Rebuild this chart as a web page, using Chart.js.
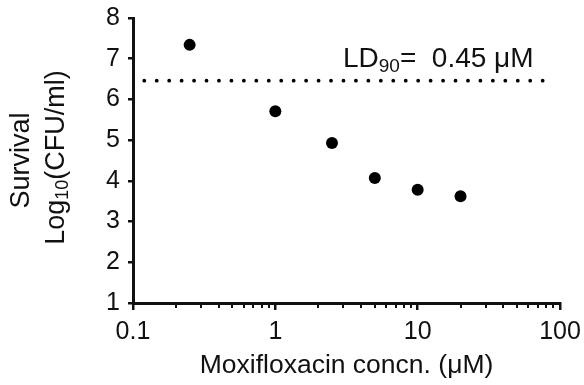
<!DOCTYPE html>
<html><head><meta charset="utf-8">
<script src="https://cdn.jsdelivr.net/npm/chart.js@4.4.0/dist/chart.umd.min.js"></script>
<style>html,body{margin:0;padding:0;background:#fff}#wrap{width:584px;height:385px}</style>
</head><body><div id="wrap"><canvas id="c" width="584" height="385"></canvas></div>
<script>
// ---- data ----
const concentrations = [0.25, 1, 2.5, 5, 10, 20];          // µM
const survivalLog10 = [7.34, 5.71, 4.93, 4.07, 3.78, 3.62]; // Log10(CFU/ml)
const ld90LineX = [0.12, 78];
const ld90LineY = [6.46, 6.46];
const xTickValues = [0.1, 1, 10, 100];
const xTickLabels = ['0.1', '1', '10', '100'];
const xMinorTickValues = [0.2, 0.3, 0.4, 0.5, 0.6, 0.7, 0.8, 0.9, 2, 3, 4, 5, 6, 7, 8, 9, 20, 30, 40, 50, 60, 70, 80, 90];
const yTickValues = [1, 2, 3, 4, 5, 6, 7, 8];
const xTitle = 'Moxifloxacin concn. (\u03BCM)';
const yTitleLine1 = 'Survival';
const yTitleLine2 = ['Log', '10', '(CFU/ml)'];
const ld90Text = ['LD', '90', '=  0.45 \u03BCM'];

const FONT = '"Liberation Sans", Arial, Helvetica, sans-serif';
const INK = '#111';

const extras = {
  id: 'extras',
  afterDraw(chart) {
    const ctx = chart.ctx;
    const xs = chart.scales.x, ys = chart.scales.y;
    const base = ys.getPixelForValue(1);
    ctx.save();
    // minor log ticks
    ctx.strokeStyle = INK; ctx.lineWidth = 2;
    xMinorTickValues.forEach(v => {
      const px = Math.round(xs.getPixelForValue(v));
      ctx.beginPath(); ctx.moveTo(px, base); ctx.lineTo(px, base + 5); ctx.stroke();
    });
    // y-axis title (two lines, rotated)
    const midY = (chart.chartArea.top + chart.chartArea.bottom) / 2;
    ctx.fillStyle = INK;
    ctx.textBaseline = 'middle';
    ctx.save();
    ctx.translate(22, midY);
    ctx.rotate(-Math.PI / 2);
    ctx.font = '27px ' + FONT;
    ctx.textAlign = 'center';
    ctx.fillText(yTitleLine1, 0, 0);
    ctx.restore();
    ctx.save();
    ctx.translate(57, midY - 3);
    ctx.rotate(-Math.PI / 2);
    ctx.textAlign = 'left';
    const big = '27px ' + FONT, small = '18px ' + FONT;
    ctx.font = big; const w1 = ctx.measureText(yTitleLine2[0]).width;
    ctx.font = small; const w2 = ctx.measureText(yTitleLine2[1]).width;
    ctx.font = big; const w3 = ctx.measureText(yTitleLine2[2]).width;
    let x0 = -(w1 + w2 + w3) / 2;
    ctx.font = big; ctx.fillText(yTitleLine2[0], x0, 0);
    ctx.font = small; ctx.fillText(yTitleLine2[1], x0 + w1, 6);
    ctx.font = big; ctx.fillText(yTitleLine2[2], x0 + w1 + w2, 0);
    ctx.restore();
    // LD90 annotation
    ctx.textBaseline = 'alphabetic';
    ctx.textAlign = 'left';
    const lbig = '28px ' + FONT, lsmall = '19px ' + FONT;
    let lx = 343; const ly = 67;
    ctx.font = lbig; ctx.fillText(ld90Text[0], lx, ly); lx += ctx.measureText(ld90Text[0]).width;
    ctx.font = lsmall; ctx.fillText(ld90Text[1], lx, ly + 5); lx += ctx.measureText(ld90Text[1]).width;
    ctx.font = lbig; ctx.fillText(ld90Text[2], lx, ly);
    ctx.restore();
  }
};

new Chart(document.getElementById('c'), {
  type: 'scatter',
  data: {
    datasets: [
      {
        data: concentrations.map((c, i) => ({x: c, y: survivalLog10[i]})),
        pointRadius: 6, pointHoverRadius: 6,
        backgroundColor: '#000', borderWidth: 0
      },
      {
        type: 'line',
        data: ld90LineX.map((x, i) => ({x: x, y: ld90LineY[i]})),
        borderColor: '#000', borderWidth: 3.8,
        borderDash: [0, 12.45], borderCapStyle: 'round',
        pointRadius: 0, fill: false
      }
    ]
  },
  options: {
    responsive: false, animation: false, devicePixelRatio: 1,
    layout: {padding: {top: 18, right: 24, left: 0, bottom: 0}},
    plugins: {legend: {display: false}, tooltip: {enabled: false}},
    scales: {
      x: {
        type: 'logarithmic', min: 0.1, max: 100,
        afterBuildTicks: s => { s.ticks = xTickValues.map(v => ({value: v, major: true})); },
        afterFit: s => { s.height = 82; s.paddingLeft = 0; s.paddingRight = 0; },
        ticks: {
          font: {size: 25, family: FONT}, color: INK, padding: 7, maxRotation: 0, autoSkip: false,
          callback: (v) => { const i = xTickValues.indexOf(v); return i >= 0 ? xTickLabels[i] : ''; }
        },
        grid: {drawOnChartArea: false, drawTicks: true, tickLength: 7, color: INK, lineWidth: 2.5},
        border: {display: true, color: INK, width: 3},
        title: {display: true, text: xTitle, font: {size: 26.5, family: FONT}, color: INK, padding: {top: 0, bottom: 3}}
      },
      y: {
        min: 1, max: 8,
        afterBuildTicks: s => { s.ticks = yTickValues.map(v => ({value: v})); },
        afterFit: s => { s.width = 133; s.paddingTop = 0; s.paddingBottom = 0; },
        ticks: {font: {size: 25, family: FONT}, color: INK, padding: 8},
        grid: {drawOnChartArea: false, drawTicks: true, tickLength: 5, color: INK, lineWidth: 2.5},
        border: {display: true, color: INK, width: 3}
      }
    }
  },
  plugins: [extras]
});
</script>
</body></html>
